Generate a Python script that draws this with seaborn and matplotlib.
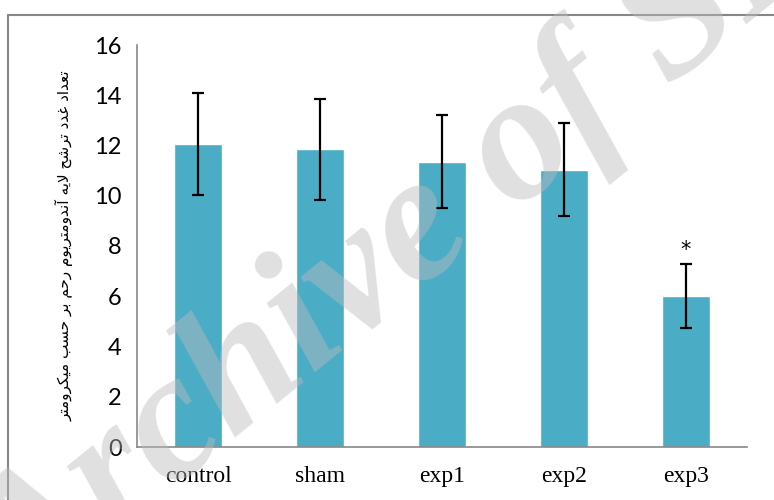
import unicodedata
import numpy as np
import seaborn as sns
import matplotlib.pyplot as plt
from matplotlib.patches import Rectangle

# Data
groups = ["control", "sham", "exp1", "exp2", "exp3"]
means = [12.07, 11.85, 11.36, 11.03, 6.02]
errors = [2.03, 2.0, 1.85, 1.85, 1.27]
ylabel_text = "تعداد غدد ترشح لایه آندومتریوم رحم بر حسب میکرومتر"
star_label = "*"
watermark = "Archive of SID"


def shape_rtl(text):
    # join Arabic/Persian letters with presentation forms, then reverse for display
    tokens = []
    i = 0
    while i < len(text):
        if text[i] == "ل" and i + 1 < len(text) and text[i + 1] == "ا":
            tokens.append("ARABIC LIGATURE LAM WITH ALEF")
            i += 2
        else:
            ch = text[i]
            name = unicodedata.name(ch, "")
            tokens.append(name if name.startswith("ARABIC LETTER") else ch)
            i += 1

    def has(tok, form):
        if not tok.startswith("ARABIC"):
            return False
        try:
            unicodedata.lookup(tok + " " + form)
            return True
        except KeyError:
            return False

    out = []
    for k, tok in enumerate(tokens):
        if not tok.startswith("ARABIC"):
            out.append(tok)
            continue
        prev = tokens[k - 1] if k > 0 else " "
        nxt = tokens[k + 1] if k + 1 < len(tokens) else " "
        join_prev = has(prev, "INITIAL FORM") or has(prev, "MEDIAL FORM")
        join_next = has(tok, "INITIAL FORM") and nxt.startswith("ARABIC")
        if join_prev and join_next:
            form = "MEDIAL FORM"
        elif join_prev:
            form = "FINAL FORM"
        elif join_next:
            form = "INITIAL FORM"
        else:
            form = "ISOLATED FORM"
        try:
            out.append(unicodedata.lookup(tok + " " + form))
        except KeyError:
            out.append(unicodedata.lookup(tok))
    return "".join(reversed(out))


sns.set_style("white")
plt.rcParams["font.family"] = ["Lato", "DejaVu Sans"]

fig = plt.figure(figsize=(7.74, 5.0), dpi=100)
ax = fig.add_axes([137 / 774, 1 - 447 / 500, (747 - 137) / 774, (447 - 45) / 500])

sns.barplot(x=groups, y=means, color="#4BACC6", saturation=1, width=0.4,
            errorbar=None, ax=ax, zorder=2)
ax.errorbar(np.arange(len(groups)), means, yerr=errors, fmt="none",
            ecolor="black", elinewidth=1.6, capsize=4.5, capthick=1.6, zorder=3)
ax.text(4, means[4] + errors[4] + 0.55, star_label, ha="center", va="center",
        fontsize=15, color="black", family="DejaVu Sans")

ax.set_ylim(0, 16)
ax.set_yticks(range(0, 17, 2))
ax.set_xlim(-0.5, 4.5)
ax.set_xticks(range(len(groups)))
ax.set_xticks(np.arange(-0.5, 5, 1), minor=True)
ax.set_xticklabels(groups, family="Liberation Serif", fontsize=17, color="black")
ax.tick_params(axis="x", which="major", length=0, pad=14)
ax.tick_params(axis="x", which="minor", length=7, color="#878787", width=1.2)
ax.tick_params(axis="y", length=5, color="#878787", width=1.2, labelsize=17,
               labelcolor="black", pad=6)

for side in ["top", "right"]:
    ax.spines[side].set_visible(False)
for side in ["left", "bottom"]:
    ax.spines[side].set_color("#878787")
    ax.spines[side].set_linewidth(1.2)

ax.set_ylabel(shape_rtl(ylabel_text), family="DejaVu Sans", fontsize=11,
              labelpad=15, color="black")
ax.set_xlabel("")

# outer chart border
fig.add_artist(Rectangle((8 / 774, -0.1), 1.2, 0.97 + 0.1, transform=fig.transFigure,
                         fill=False, edgecolor="#878787", linewidth=1.5, clip_on=False))

# watermark
fig.text(0.565, 0.55, watermark, rotation=39, fontsize=132, family="Liberation Serif",
         style="italic", weight="bold", color="#bbbbbb", alpha=0.45,
         ha="center", va="center", zorder=5)

fig.savefig("out.png", dpi=100)
